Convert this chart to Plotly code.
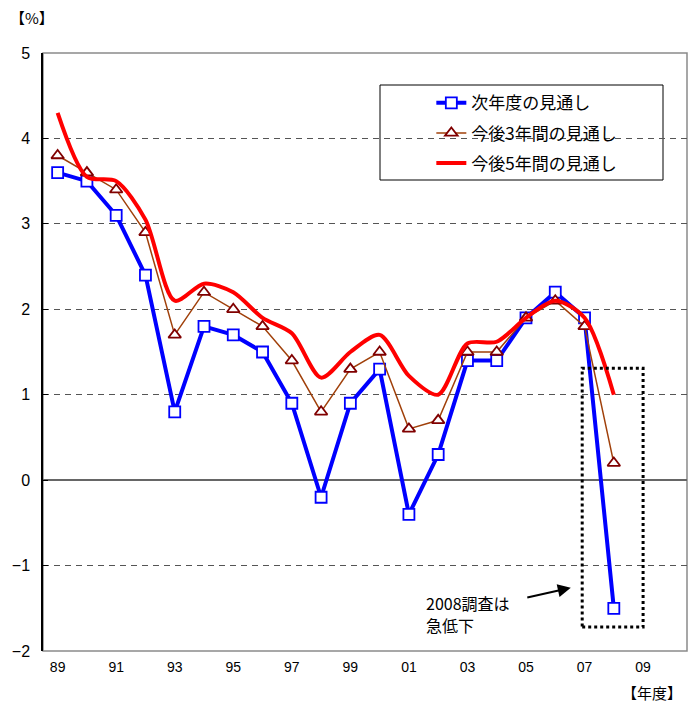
import plotly.graph_objects as go

# Survey year (fiscal) and expected real growth rates (%)
years = list(range(1989, 2009))
next_year = [3.6, 3.5, 3.1, 2.4, 0.8, 1.8, 1.7, 1.5, 0.9, -0.2,
             0.9, 1.3, -0.4, 0.3, 1.4, 1.4, 1.9, 2.2, 1.9, -1.5]
next_3_years = [3.8, 3.6, 3.4, 2.9, 1.7, 2.2, 2.0, 1.8, 1.4, 0.8,
                1.3, 1.5, 0.6, 0.7, 1.5, 1.5, 1.9, 2.1, 1.8, 0.2]
next_5_years = [4.3, 3.55, 3.5, 3.05, 2.1, 2.3, 2.2, 1.9, 1.72, 1.2,
                1.5, 1.7, 1.22, 1.0, 1.6, 1.62, 1.9, 2.1, 1.9, 1.0]

x_tick_vals = list(range(1989, 2010, 2))
x_tick_text = ["89", "91", "93", "95", "97", "99", "01", "03", "05", "07", "09"]
y_tick_vals = [5, 4, 3, 2, 1, 0, -1, -2]
y_tick_text = ["5", "4", "3", "2", "1", "0", "\u22121", "\u22122"]

names = ["次年度の見通し", "今後3年間の見通し", "今後5年間の見通し"]

JP = "Noto Sans CJK JP"

W, H = 694, 705
L, R, T, B = 43, 7, 53, 54


def to_paper(px, py):
    """Pixel position on the page -> paper coordinates of the plot area."""
    return (px - L) / (W - L - R), (H - B - py) / (H - T - B)


fig = go.Figure()

fig.add_trace(go.Scatter(
    x=years, y=next_year, name=names[0], mode="lines+markers",
    legendgroup="a",
    line=dict(color="#0000FF", width=4),
    marker=dict(symbol="square", size=11, color="white",
                line=dict(color="#0000FF", width=1.8)),
))
fig.add_trace(go.Scatter(
    x=years, y=next_3_years, name=names[1], mode="lines+markers",
    legendgroup="b",
    line=dict(color="#A0400A", width=1.5),
    marker=dict(symbol="triangle-up", size=11, color="white",
                line=dict(color="#800000", width=1.8)),
))
fig.add_trace(go.Scatter(
    x=years, y=next_5_years, name=names[2], mode="lines",
    legendgroup="c",
    line=dict(color="#FF0000", width=4, shape="spline", smoothing=0.8),
))

# plot-area frame
fig.add_shape(type="rect", xref="paper", yref="paper", x0=0, x1=1, y0=0, y1=1,
              line=dict(color="#8a8a8a", width=1.5), layer="below")
# legend frame
lx0, ly0 = to_paper(380, 180)
lx1, ly1 = to_paper(663, 85)
fig.add_shape(type="rect", xref="paper", yref="paper",
              x0=lx0, x1=lx1, y0=ly0, y1=ly1,
              line=dict(color="black", width=1), fillcolor="white", layer="below")
# highlight box around the 2008 survey
fig.add_shape(type="rect", xref="x", yref="y",
              x0=2006.92, x1=2009.0, y0=-1.72, y1=1.31,
              line=dict(color="black", width=3, dash="dot"))

fig.add_annotation(x=2006.53, y=-1.26, xref="x", yref="y",
                   ax=-45, ay=10, axref="pixel", ayref="pixel",
                   text="", showarrow=True, arrowhead=2, arrowsize=1.3,
                   arrowwidth=2, arrowcolor="black")

for txt, (px, py) in [("2008調査は", (424, 603)), ("急低下", (424, 625))]:
    ax_, ay_ = to_paper(px, py)
    fig.add_annotation(x=ax_, y=ay_, xref="paper", yref="paper",
                       text=txt, showarrow=False,
                       xanchor="left", yanchor="middle", align="left",
                       font=dict(family=JP, size=16, color="black"))

for txt, (px, py), anchor in [("【%】", (8, 18), "left"), ("【年度】", (684, 692), "right")]:
    ax_, ay_ = to_paper(px, py)
    fig.add_annotation(x=ax_, y=ay_, xref="paper", yref="paper", text=txt,
                       showarrow=False, xanchor=anchor, yanchor="middle",
                       font=dict(family=JP, size=15, color="black"))

fig.update_layout(
    width=W, height=H,
    margin=dict(l=L, r=R, t=T, b=B),
    paper_bgcolor="white", plot_bgcolor="white",
    font=dict(family=JP, color="black"),
    showlegend=True,
    legend=dict(x=0.603, y=0.946, xanchor="left", yanchor="top",
                bgcolor="rgba(0,0,0,0)", borderwidth=0,
                tracegroupgap=5,
                font=dict(family=JP, size=17, color="black")),
    xaxis=dict(range=[1988.5, 2010.5], tickmode="array",
               tickvals=x_tick_vals, ticktext=x_tick_text,
               showgrid=False, zeroline=False, showline=False,
               ticks="", ticklabelstandoff=6,
               tickfont=dict(family="Liberation Sans", size=14, color="black")),
    yaxis=dict(range=[-2, 5], tickmode="array",
               tickvals=y_tick_vals, ticktext=y_tick_text,
               showgrid=True, gridcolor="#555555", griddash="6px,5px", gridwidth=1,
               zeroline=True, zerolinecolor="#666666", zerolinewidth=1.5,
               showline=True, linecolor="black", linewidth=1.5,
               ticks="inside", ticklen=5, tickcolor="black",
               ticklabelstandoff=8,
               tickfont=dict(family="Liberation Sans", size=16, color="black")),
)

fig.write_html("out.html")
